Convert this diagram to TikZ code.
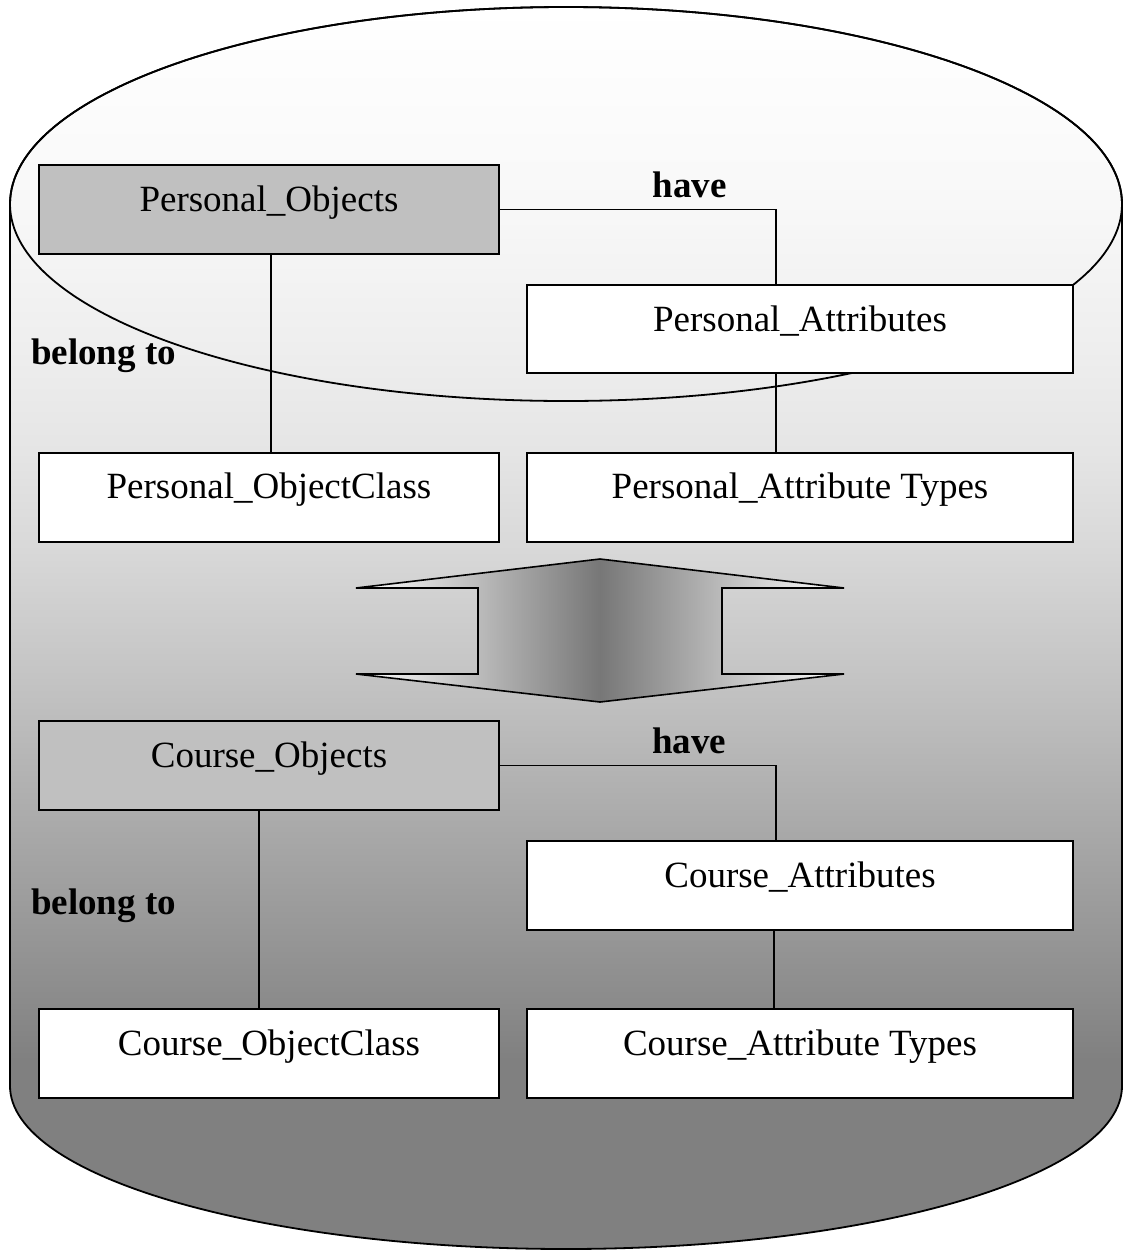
\documentclass[tikz,border=0pt]{standalone}
\usepackage{fontspec}
\setmainfont{Liberation Serif}
\definecolor{boxgray}{RGB}{192,192,192}
\definecolor{arrowmid}{RGB}{119,119,119}
\definecolor{gA}{gray}{0.973}
\definecolor{gB}{gray}{0.933}
\definecolor{gC}{gray}{0.898}
\definecolor{gD}{gray}{0.847}
\definecolor{gE}{gray}{0.753}
\definecolor{gF}{gray}{0.647}
\definecolor{gG}{gray}{0.545}
\definecolor{gH}{gray}{0.502}
\pgfdeclareverticalshading{cyl}{100bp}{color(0bp)=(gH); color(25bp)=(gH); color(32.6bp)=(gH); color(35bp)=(gG); color(41bp)=(gF); color(47.1bp)=(gE); color(53.1bp)=(gD); color(57.1bp)=(gC); color(61.2bp)=(gB); color(67.2bp)=(gA); color(75bp)=(white); color(100bp)=(white)}
\tikzset{
  box/.style={draw=black, line width=2pt, fill=white, inner sep=0pt,
    text height=46pt, text depth=43pt, font=\fontsize{37}{44}\selectfont},
  leftbox/.style={box, minimum width=460pt},
  rightbox/.style={box, minimum width=546pt},
  objbox/.style={leftbox, fill=boxgray},
  lbl/.style={font=\bfseries\fontsize{37}{44}\selectfont, inner sep=0pt},
  conn/.style={line width=1.6pt},
  outline/.style={line width=1.8pt}
}
\begin{document}
\begin{tikzpicture}[x=1pt,y=-1pt]
\useasboundingbox (0,0) rectangle (1123,1251);
% cylinder body
\shadedraw[shading=cyl, outline] (10,204) -- (10,1086)
  arc[start angle=180, end angle=360, x radius=556pt, y radius=163pt]
  -- (1122,204)
  arc[start angle=0, end angle=180, x radius=556pt, y radius=197pt] -- cycle;
% top ellipse
\draw[outline] (566,204) ellipse [x radius=556pt, y radius=197pt];

% boxes
\node[objbox] (PO) at (269,209.5) {Personal\_Objects};
\node[rightbox, text depth=42pt] (PA) at (800,329) {Personal\_Attributes};
\node[leftbox] (POC) at (269,497) {Personal\_ObjectClass};
\node[rightbox] (PAT) at (800,497) {Personal\_Attribute Types};
\node[objbox] (CO) at (269,765.5) {Course\_Objects};
\node[rightbox] (CA) at (800,885.5) {Course\_Attributes};
\node[leftbox] (COC) at (269,1053.5) {Course\_ObjectClass};
\node[rightbox] (CAT) at (800,1053.5) {Course\_Attribute Types};

% connectors
\draw[conn] (PO.east) -| ([xshift=-24pt]PA.north);
\draw[conn] ([xshift=2pt]PO.south) -- ([xshift=2pt]POC.north);
\draw[conn] ([xshift=-24pt]PA.south) -- ([xshift=-24pt]PAT.north);
\draw[conn] (CO.east) -| ([xshift=-24pt]CA.north);
\draw[conn] ([xshift=-10pt]CO.south) -- ([xshift=-10pt]COC.north);
\draw[conn] ([xshift=-26pt]CA.south) -- ([xshift=-26pt]CAT.north);

% labels
\node[lbl, anchor=base] (have1) at (689.5,197) {have};
\node[lbl, anchor=base west] (belong1) at (31,364) {belong to};
\node[lbl, anchor=base] (have2) at (689,753) {have};
\node[lbl, anchor=base west] (belong2) at (31,914) {belong to};

% double arrow
\shadedraw[conn, left color=white, right color=white, middle color=arrowmid]
  (600,559) -- (844,588) -- (722,588) -- (722,674) -- (844,674) -- (600,702)
  -- (356,674) -- (478,674) -- (478,588) -- (356,588) -- cycle;
\end{tikzpicture}
\end{document}
